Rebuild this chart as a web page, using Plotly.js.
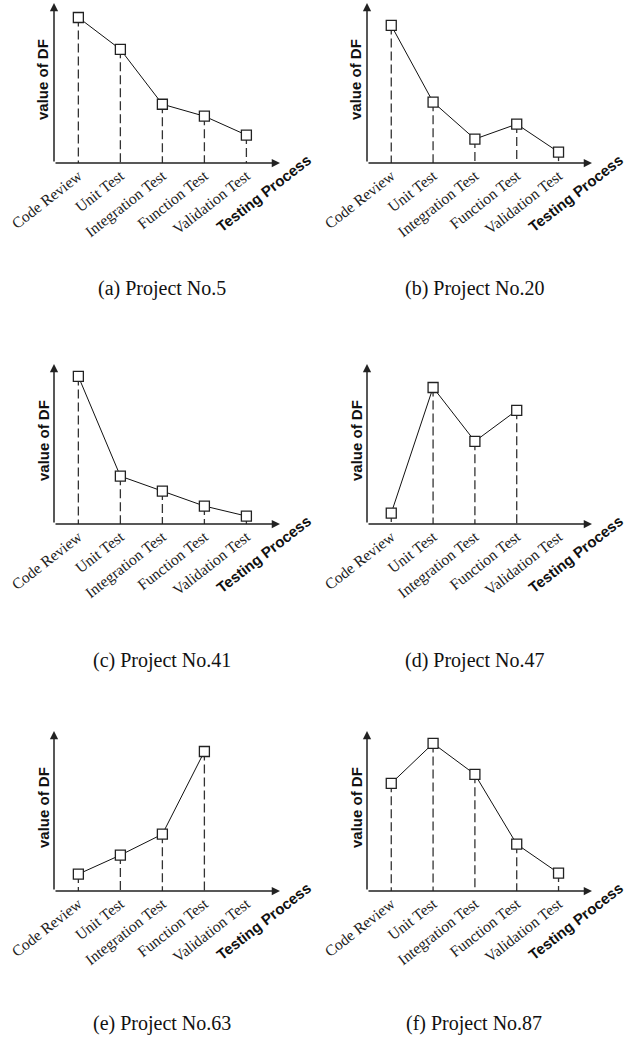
<!DOCTYPE html>
<html>
<head>
<meta charset="utf-8">
<script src="https://cdn.plot.ly/plotly-3.0.1.min.js"></script>
<style>body{margin:0;padding:0;background:#fff;}#chart{width:631px;height:1040px;}</style>
</head>
<body>
<div id="chart"></div>
<script>
// ---- data ----
var stages = ["Code Review", "Unit Test", "Integration Test", "Function Test", "Validation Test"];
var project5  = [9.73, 7.60, 3.93, 3.13, 1.87];
var project20 = [9.20, 4.07, 1.60, 2.60, 0.73];
var project41 = [9.87, 3.20, 2.20, 1.20, 0.53];
var project47 = [0.73, 9.13, 5.53, 7.60, null];
var project63 = [1.13, 2.40, 3.80, 9.33, null];
var project87 = [7.20, 9.87, 7.80, 3.13, 1.20];
var captions = ["(a) Project No.5", "(b) Project No.20", "(c) Project No.41",
                "(d) Project No.47", "(e) Project No.63", "(f) Project No.87"];
var xTitle = "Testing Process";
var yTitle = "value of DF";

var series = [project5, project20, project41, project47, project63, project87];

// ---- layout geometry (pixels) ----
var W = 631, H = 1040;
var colX = [[54, 280], [367, 592]];
var rowY = [[163, 3], [524, 364], [891, 731]];   // [bottom(axis), top]
var capY = [288, 660, 1023];
var capX = [162, 474];

var traces = [];
var layout = {
  width: W, height: H,
  margin: {l: 0, r: 0, t: 0, b: 0},
  paper_bgcolor: "#fff", plot_bgcolor: "#fff",
  showlegend: false,
  annotations: []
};

var serif = "Liberation Serif, Times New Roman, serif";
var sans = "Liberation Sans, Arial, sans-serif";

series.forEach(function (vals, i) {
  var row = Math.floor(i / 2), col = i % 2;
  var n = i + 1;
  var xa = "x" + (n === 1 ? "" : n), ya = "y" + (n === 1 ? "" : n);
  var xk = "xaxis" + (n === 1 ? "" : n), yk = "yaxis" + (n === 1 ? "" : n);

  // dashed drop lines
  var dx = [], dy = [];
  vals.forEach(function (v, k) {
    if (v !== null) { dx.push(stages[k], stages[k], null); dy.push(v, 0, null); }
  });
  traces.push({
    x: dx, y: dy, xaxis: xa, yaxis: ya, type: "scatter", mode: "lines",
    line: {color: "#333", width: 1.3, dash: "9px,4px"}, hoverinfo: "skip",
    connectgaps: false
  });
  // main line
  traces.push({
    x: stages, y: vals, xaxis: xa, yaxis: ya, type: "scatter", mode: "lines",
    line: {color: "#111", width: 1},
    connectgaps: false, cliponaxis: false
  });
  // square markers with white fill
  traces.push({
    x: stages, y: vals, xaxis: xa, yaxis: ya, type: "scatter", mode: "markers",
    marker: {symbol: "square", size: 10, color: "#fff", line: {width: 1.3, color: "#222"}},
    cliponaxis: false, hoverinfo: "skip"
  });

  layout[xk] = {
    domain: [colX[col][0] / W, colX[col][1] / W],
    anchor: ya,
    type: "category",
    categoryorder: "array", categoryarray: stages,
    range: [-0.58, 4.8],
    showgrid: false, zeroline: false, showline: false,
    ticks: "", tickangle: -38,
    tickfont: {family: serif, size: 15.5, color: "#222"},
    fixedrange: true
  };
  layout[yk] = {
    domain: [1 - rowY[row][0] / H, 1 - rowY[row][1] / H],
    anchor: xa,
    range: [0, 10.7],
    showgrid: false, zeroline: false, showline: false,
    showticklabels: false, ticks: "",
    fixedrange: true
  };

  // axis arrows
  layout.annotations.push({
    xref: xa + " domain", yref: ya + " domain", x: 1, y: 0,
    axref: xa + " domain", ayref: ya + " domain", ax: 0, ay: 0,
    text: "", showarrow: true, arrowhead: 2, arrowsize: 1.1, arrowwidth: 1.5,
    arrowcolor: "#222", standoff: 0, startstandoff: 0
  });
  layout.annotations.push({
    xref: xa + " domain", yref: ya + " domain", x: 0, y: 1,
    axref: xa + " domain", ayref: ya + " domain", ax: 0, ay: 0,
    text: "", showarrow: true, arrowhead: 2, arrowsize: 1.1, arrowwidth: 1.5,
    arrowcolor: "#222", standoff: 0, startstandoff: 0
  });
  // y title
  layout.annotations.push({
    xref: xa + " domain", yref: ya + " domain", x: 0, y: 0.5,
    xanchor: "center", yanchor: "middle",
    xshift: -11, yshift: 3, textangle: -90, showarrow: false,
    text: "<b>" + yTitle + "</b>",
    font: {family: sans, size: 15, color: "#111"}
  });
  // x title
  layout.annotations.push({
    xref: xa + " domain", yref: ya + " domain", x: 1, y: 0,
    xanchor: "center", yanchor: "middle",
    xshift: -17, yshift: -30, textangle: -38, showarrow: false,
    text: "<b>" + xTitle + "</b>",
    font: {family: sans, size: 15, color: "#111"}
  });
  // caption
  layout.annotations.push({
    xref: "paper", yref: "paper", x: capX[col] / W, y: 1 - capY[row] / H,
    xanchor: "center", yanchor: "middle",
    showarrow: false, text: captions[i],
    font: {family: serif, size: 20, color: "#111"}
  });
});

Plotly.newPlot("chart", traces, layout, {staticPlot: true, displayModeBar: false});
</script>
</body>
</html>
